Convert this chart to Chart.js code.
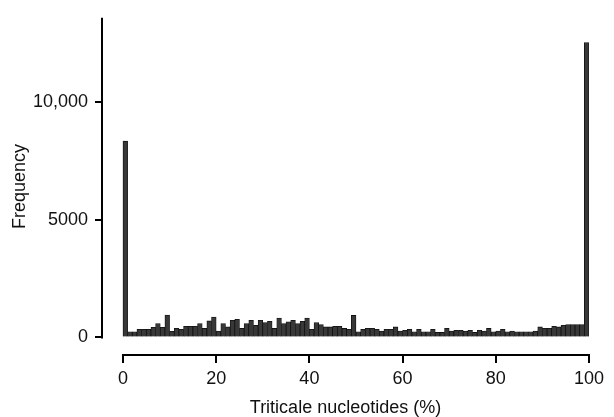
<!DOCTYPE html>
<html><head><meta charset="utf-8">
<script src="https://cdn.jsdelivr.net/npm/chart.js@4.4.0/dist/chart.umd.min.js"></script>
<style>html,body{margin:0;padding:0;background:#fff}</style>
</head><body>
<canvas id="c" width="614" height="417"></canvas>
<script>
// Histogram: percentage of triticale nucleotides, 1% bins from 0 to 100
const frequency = [
  8350, 240, 240, 340, 340, 340, 430, 590, 430, 950,
  260, 390, 340, 475, 475, 475, 590, 380, 700, 865,
  265, 590, 445, 725, 770, 380, 590, 725, 515, 725,
  630, 685, 380, 825, 590, 660, 725, 590, 685, 825,
  340, 630, 545, 445, 445, 475, 475, 380, 340, 935,
  240, 340, 390, 390, 340, 265, 340, 340, 445, 265,
  305, 340, 240, 340, 240, 240, 340, 210, 210, 390,
  265, 305, 305, 265, 305, 210, 305, 265, 380, 240,
  265, 340, 240, 265, 240, 240, 240, 240, 265, 445,
  390, 390, 475, 445, 515, 545, 545, 545, 545, 12550
];
const binCenters = frequency.map((_, i) => i + 0.5);
const xTicks = [0, 20, 40, 60, 80, 100];
const yTicks = [0, 5000, 10000];
const yMax = 13600;
const yMin = -750;
const xMin = -4.5;
const xTitle = 'Triticale nucleotides (%)';
const yTitle = 'Frequency';

const FONT = '"Liberation Sans", Arial, Helvetica, sans-serif';

const detachedAxes = {
  id: 'detachedAxes',
  afterDraw(chart) {
    const {ctx, scales: {x, y}, chartArea} = chart;
    ctx.save();
    ctx.strokeStyle = '#000';
    ctx.lineWidth = 2;
    ctx.lineCap = 'square';
    ctx.beginPath();
    ctx.moveTo(x.getPixelForValue(xTicks[0]), chartArea.bottom);
    ctx.lineTo(x.getPixelForValue(xTicks[xTicks.length - 1]), chartArea.bottom);
    ctx.stroke();
    ctx.lineCap = 'butt';
    ctx.beginPath();
    ctx.moveTo(chartArea.left, y.getPixelForValue(yTicks[0]) + 1);
    ctx.lineTo(chartArea.left, y.getPixelForValue(yMax));
    ctx.stroke();
    ctx.restore();
  }
};

new Chart(document.getElementById('c'), {
  type: 'bar',
  data: {
    datasets: [{
      data: binCenters.map((c, i) => ({x: c, y: frequency[i]})),
      backgroundColor: '#383838',
      borderColor: '#111',
      borderWidth: 0.8,
      barPercentage: 1,
      categoryPercentage: 1
    }]
  },
  options: {
    responsive: false,
    animation: false,
    layout: {padding: {top: 13, right: 25, left: 0, bottom: 0}},
    plugins: {legend: {display: false}, tooltip: {enabled: false}},
    scales: {
      x: {
        type: 'linear',
        min: xMin, max: xTicks[xTicks.length - 1],
        offset: false,
        afterBuildTicks: s => { s.ticks = xTicks.map(v => ({value: v})); },
        afterFit: s => { s.height = 62; },
        grid: {display: true, offset: false, drawOnChartArea: false, drawTicks: true, tickLength: 8, color: '#000', lineWidth: 2},
        border: {display: false},
        ticks: {color: '#111', font: {family: FONT, size: 18}, padding: 5, maxRotation: 0, autoSkip: false},
        title: {display: true, text: xTitle, color: '#111', font: {family: FONT, size: 18, lineHeight: 1}, padding: {top: 0, bottom: 0}}
      },
      y: {
        min: yMin, max: yMax,
        afterBuildTicks: s => { s.ticks = yTicks.map(v => ({value: v})); },
        afterFit: s => { s.width = 102; },
        grid: {display: true, offset: false, drawOnChartArea: false, drawTicks: true, tickLength: 7, color: '#000', lineWidth: 2},
        border: {display: false},
        ticks: {
          color: '#111', font: {family: FONT, size: 18}, padding: 7,
          callback: v => v >= 10000 ? v.toLocaleString('en-US') : String(v)
        },
        title: {display: true, text: yTitle, color: '#111', font: {family: FONT, size: 18, lineHeight: 1}, padding: {top: 11, bottom: 0}}
      }
    }
  },
  plugins: [detachedAxes]
});
</script>
</body></html>
